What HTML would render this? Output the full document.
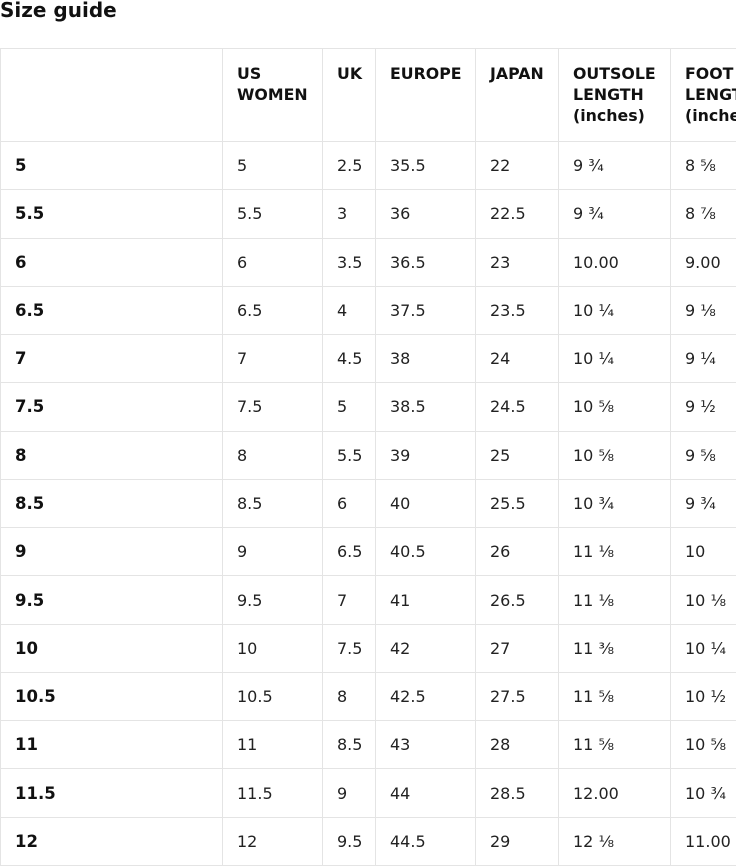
<!DOCTYPE html>
<html><head><meta charset="utf-8"><style>
body{margin:0;width:736px;height:866px;overflow:hidden;background:#fff;font-family:"DejaVu Sans","Liberation Sans",sans-serif;color:#111}
h1{position:absolute;left:0;top:-2px;margin:0;font-size:20px;font-weight:bold}
table{position:absolute;left:0;top:48px;border-collapse:collapse;table-layout:fixed;width:800px}
td,th{border:1px solid #e4e4e4;padding:0 0 0 14px;font-size:16px;text-align:left;vertical-align:middle;height:47.27px;white-space:nowrap;overflow:hidden}
td{color:#222}
th{font-size:15.8px;font-weight:bold;vertical-align:top;padding-top:14px;height:78px;line-height:21px;color:#111}
td:first-child{font-weight:bold;font-size:16.5px;color:#111}
</style></head><body>
<h1>Size guide</h1>
<table>
<colgroup><col style="width:222px"><col style="width:100px"><col style="width:53px"><col style="width:100px"><col style="width:83px"><col style="width:112px"><col style="width:130px"></colgroup>
<tr><th></th><th>US<br>WOMEN</th><th>UK</th><th>EUROPE</th><th>JAPAN</th><th>OUTSOLE<br>LENGTH<br>(inches)</th><th>FOOT<br>LENGTH<br>(inches)</th></tr>
<tr><td>5</td><td>5</td><td>2.5</td><td>35.5</td><td>22</td><td>9 ¾</td><td>8 ⅝</td></tr>
<tr><td>5.5</td><td>5.5</td><td>3</td><td>36</td><td>22.5</td><td>9 ¾</td><td>8 ⅞</td></tr>
<tr><td>6</td><td>6</td><td>3.5</td><td>36.5</td><td>23</td><td>10.00</td><td>9.00</td></tr>
<tr><td>6.5</td><td>6.5</td><td>4</td><td>37.5</td><td>23.5</td><td>10 ¼</td><td>9 ⅛</td></tr>
<tr><td>7</td><td>7</td><td>4.5</td><td>38</td><td>24</td><td>10 ¼</td><td>9 ¼</td></tr>
<tr><td>7.5</td><td>7.5</td><td>5</td><td>38.5</td><td>24.5</td><td>10 ⅝</td><td>9 ½</td></tr>
<tr><td>8</td><td>8</td><td>5.5</td><td>39</td><td>25</td><td>10 ⅝</td><td>9 ⅝</td></tr>
<tr><td>8.5</td><td>8.5</td><td>6</td><td>40</td><td>25.5</td><td>10 ¾</td><td>9 ¾</td></tr>
<tr><td>9</td><td>9</td><td>6.5</td><td>40.5</td><td>26</td><td>11 ⅛</td><td>10</td></tr>
<tr><td>9.5</td><td>9.5</td><td>7</td><td>41</td><td>26.5</td><td>11 ⅛</td><td>10 ⅛</td></tr>
<tr><td>10</td><td>10</td><td>7.5</td><td>42</td><td>27</td><td>11 ⅜</td><td>10 ¼</td></tr>
<tr><td>10.5</td><td>10.5</td><td>8</td><td>42.5</td><td>27.5</td><td>11 ⅝</td><td>10 ½</td></tr>
<tr><td>11</td><td>11</td><td>8.5</td><td>43</td><td>28</td><td>11 ⅝</td><td>10 ⅝</td></tr>
<tr><td>11.5</td><td>11.5</td><td>9</td><td>44</td><td>28.5</td><td>12.00</td><td>10 ¾</td></tr>
<tr><td>12</td><td>12</td><td>9.5</td><td>44.5</td><td>29</td><td>12 ⅛</td><td>11.00</td></tr>
</table>
</body></html>
